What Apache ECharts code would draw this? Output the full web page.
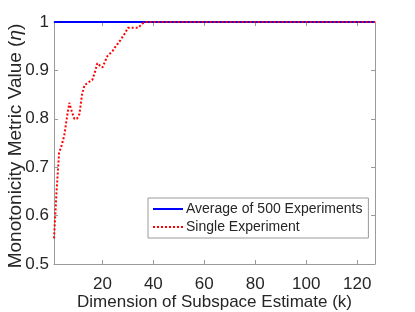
<!DOCTYPE html>
<html>
<head>
<meta charset="utf-8">
<script src="https://cdn.jsdelivr.net/npm/echarts@6/dist/echarts.min.js"></script>
<style>
html,body{margin:0;padding:0;background:#fff;}
#c{width:415px;height:312px;}
</style>
</head>
<body>
<div id="c"></div>
<script>
const kValues = [1,2,3,4,5,6,7,8,9,10,11,12,13,14,15,16,17,18,19,20,21,22,23,24,25,26,27,28,29,30,31,32,33,34,35,36,37,127];
const singleExperiment = [0.553,0.65,0.73,0.745,0.765,0.80,0.833,0.815,0.80,0.80,0.81,0.85,0.87,0.873,0.877,0.88,0.895,0.915,0.91,0.906,0.918,0.93,0.935,0.94,0.948,0.955,0.962,0.97,0.978,0.988,0.988,0.988,0.988,0.988,0.993,0.998,1,1];
const avgK = [1,127];
const avgValues = [1,1];
const xTicks = [20,40,60,80,100,120];
const yTicks = [0.5,0.6,0.7,0.8,0.9,1];
const seriesNames = ['Average of 500 Experiments','Single Experiment'];

const chart = echarts.init(document.getElementById('c'), null, {renderer:'canvas'});
const font = 'Liberation Sans, Arial, sans-serif';
const axisCol = '#9a9a9a';
const txtCol = '#262626';
const baseX = {
  type:'value', min:1, max:127,
  axisLine:{show:true, onZero:false, lineStyle:{color:axisCol,width:1}},
  axisTick:{show:true, inside:true, length:4, customValues:xTicks, lineStyle:{color:axisCol}},
  splitLine:{show:false}
};
const baseY = {
  type:'value', min:0.5, max:1, interval:0.1,
  axisLine:{show:true, onZero:false, lineStyle:{color:axisCol,width:1}},
  axisTick:{show:true, inside:true, length:4, lineStyle:{color:axisCol}},
  splitLine:{show:false}
};
chart.setOption({
  animation:false,
  backgroundColor:'#fff',
  grid:{left:54,right:40,top:22,bottom:48,containLabel:false,outerBoundsMode:'none'},
  xAxis:[
    Object.assign({}, baseX, {
      position:'bottom',
      name:'Dimension of Subspace Estimate (k)', nameLocation:'middle', nameGap:30,
      nameMoveOverlap:false,
      nameTextStyle:{color:txtCol,fontSize:17,fontFamily:font},
      axisLabel:{show:true, customValues:xTicks, color:txtCol, fontSize:17, fontFamily:font, margin:12}
    }),
    Object.assign({}, baseX, {position:'top', axisLabel:{show:false}})
  ],
  yAxis:[
    Object.assign({}, baseY, {
      position:'left',
      name:'Monotonicity Metric Value ({i|\u03b7})', nameLocation:'middle', nameGap:29,
      nameMoveOverlap:false,
      nameTextStyle:{color:txtCol,fontSize:19,fontFamily:font,padding:[0,6,0,0],
        rich:{i:{fontStyle:'italic',fontSize:19,fontFamily:font,color:txtCol}}},
      axisLabel:{show:true, color:txtCol, fontSize:17, fontFamily:font, margin:5,
        formatter:function(v){return String(Math.round(v*10)/10);}}
    }),
    Object.assign({}, baseY, {position:'right', axisLabel:{show:false}})
  ],
  legend:{
    show:true, orient:'vertical', left:148, top:198,
    width:220,
    padding:[4,6,4,4], itemGap:4, itemWidth:30, itemHeight:12,
    borderColor:'#9a9a9a', borderWidth:1, backgroundColor:'#fff',
    itemStyle:{opacity:0},
    textStyle:{color:txtCol, fontSize:14, fontFamily:font, padding:[0,0,0,-2]},
    data:seriesNames
  },
  series:[
    {name:seriesNames[0], type:'line', xAxisIndex:0, yAxisIndex:0,
     data:avgK.map((k,i)=>[k,avgValues[i]]), symbol:'none', clip:false,
     lineStyle:{color:'#0000ff',width:2.2}, itemStyle:{color:'#0000ff'}},
    {name:seriesNames[1], type:'line', xAxisIndex:0, yAxisIndex:0,
     data:kValues.map((k,i)=>[k,singleExperiment[i]]), symbol:'none', clip:false,
     lineStyle:{color:'#ff0000',width:2,type:[2,2]}, itemStyle:{color:'#ff0000'}}
  ]
});
</script>
</body>
</html>
